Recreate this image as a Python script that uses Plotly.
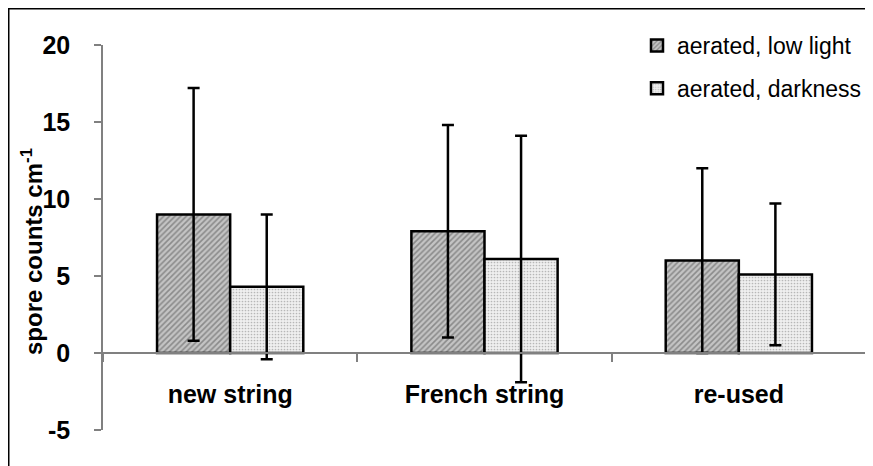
import plotly.graph_objects as go

categories = ["new string", "French string", "re-used"]
series_names = ["aerated, low light", "aerated, darkness"]
low_light = [9.0, 7.9, 6.0]
low_light_err = [8.2, 6.9, 6.0]
darkness = [4.3, 6.1, 5.1]
darkness_err = [4.7, 8.0, 4.6]
y_ticks = [-5, 0, 5, 10, 15, 20]
y_tick_labels = ["-5", "0", "5", "10", "15", "20"]

# page body has an ~8px margin; compensate
OFF = 8
W, H = 873 - OFF, 466 - OFF
# plot area in screen pixels
X0, X1, Y0, Y1 = 103, 866, 45, 430
L, R, T, B = X0 - OFF, (873 - X1), Y0 - OFF, (466 - Y1)
pw, ph = X1 - X0, Y1 - Y0

def px_x(p):
    return (p - X0) / pw

def px_y(p):
    return (Y1 - p) / ph

FONT = "Arial, Liberation Sans, sans-serif"

fig = go.Figure()
fig.add_trace(go.Bar(
    name=series_names[0], x=categories, y=low_light,
    legendgroup="a",
    marker=dict(color="#a8a8a8", line=dict(color="black", width=2.5),
                pattern=dict(shape="/", fgcolor="#505050", bgcolor="#c4c4c4",
                             size=4, solidity=0.4)),
    error_y=dict(type="data", array=low_light_err, color="black",
                 thickness=2.5, width=6),
))
fig.add_trace(go.Bar(
    name=series_names[1], x=categories, y=darkness,
    legendgroup="b",
    marker=dict(color="#e8e8e8", line=dict(color="black", width=2.5),
                pattern=dict(shape=".", fgcolor="#808080", bgcolor="#efefef",
                             size=3, solidity=0.25)),
    error_y=dict(type="data", array=darkness_err, color="black",
                 thickness=2.5, width=6),
))

fig.update_layout(
    width=W, height=H,
    margin=dict(l=L, r=R, t=T, b=B, autoexpand=False),
    paper_bgcolor="white", plot_bgcolor="white",
    barmode="group", bargap=0.425, bargroupgap=0,
    font=dict(family=FONT, color="black"),
    showlegend=True,
    legend=dict(x=px_x(637), y=px_y(24), xanchor="left", yanchor="top",
                font=dict(size=23, family=FONT), bgcolor="rgba(0,0,0,0)",
                traceorder="grouped", tracegroupgap=10),
    xaxis=dict(
        anchor="free", position=5 / 25,
        showline=True, linecolor="#808080", linewidth=2,
        ticks="outside", tickson="boundaries", ticklen=8, tickcolor="#808080",
        tickwidth=1.5,
        tickfont=dict(size=25, family=FONT, weight="bold"),
        ticklabelstandoff=19,
        showgrid=False, zeroline=False,
    ),
    yaxis=dict(
        range=[-5, 20], tickvals=y_ticks, ticktext=y_tick_labels,
        showline=True, linecolor="#808080", linewidth=1.5,
        ticks="outside", ticklen=7, tickcolor="#808080", tickwidth=1.5,
        tickfont=dict(size=25, family=FONT, weight="bold"),
        ticklabelstandoff=19,
        showgrid=False, zeroline=False,
    ),
    shapes=[dict(type="rect", xref="paper", yref="paper",
                 x0=px_x(OFF + 0.75), x1=px_x(900), y0=px_y(500), y1=px_y(OFF + 0.75),
                 line=dict(color="black", width=1.5), fillcolor="rgba(0,0,0,0)",
                 layer="below")],
    annotations=[dict(text="spore counts cm<sup>-1</sup>", xref="paper", yref="paper",
                      x=px_x(32), y=px_y(252), textangle=-90, showarrow=False,
                      font=dict(size=24, family=FONT, weight="bold"),
                      xanchor="center", yanchor="middle")],
)

fig.write_html("out.html")
